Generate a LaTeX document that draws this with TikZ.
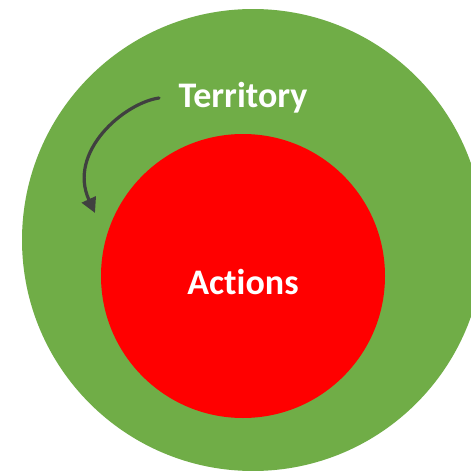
\documentclass[tikz,border=0pt]{standalone}
\usepackage{fontspec}
\setmainfont[Ligatures=NoCommon]{Carlito}
\usetikzlibrary{arrows.meta}
\begin{document}
\begin{tikzpicture}[x=1pt,y=-1pt,
 lbl/.style={text=white,font=\bfseries\fontsize{36}{42}\selectfont,inner sep=0pt}]
\useasboundingbox (0,0) rectangle (471,471);
\fill[white] (0,0) rectangle (471,471);
\fill[fill={rgb,255:red,112;green,173;blue,71}] (253,240) circle (231);
\fill[red] (243,276) circle (142);
\node[lbl] (t) at (243,98) {Territory};
\node[lbl] (a) at (243,282) {Actions};
\draw[line width=3.2pt,line cap=round,color={rgb,255:red,64;green,64;blue,64},-{Triangle[length=15pt,width=15pt]}] (159,98) .. controls (124,103) and (67,152) .. (95,213);
\end{tikzpicture}
\end{document}
